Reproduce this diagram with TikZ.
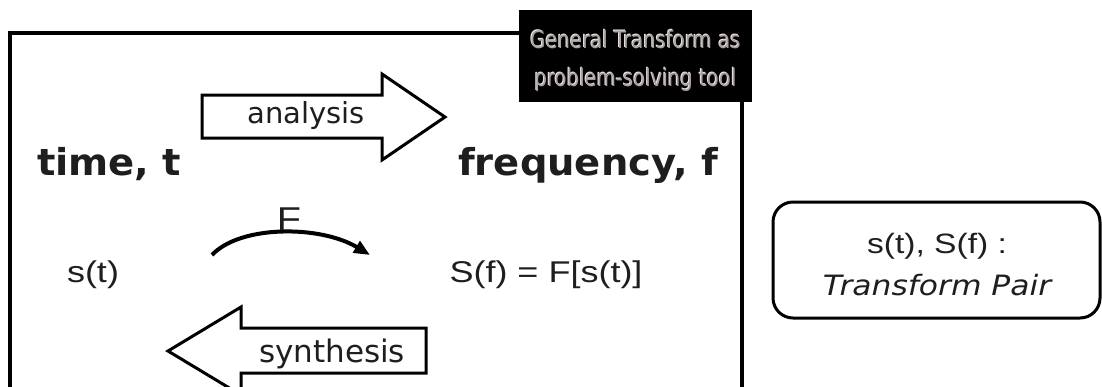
\documentclass[tikz,border=0pt]{standalone}
\usepackage{fontspec}
\setmainfont{DejaVu Sans}
\newfontfamily\comic{DejaVu Sans}
\newfontfamily\comicb[FakeStretch=1.04]{DejaVu Sans}
\newfontfamily\comicn[FakeStretch=0.82]{DejaVu Sans}
\newfontfamily\comicw[FakeStretch=1.12]{DejaVu Sans}
\newfontfamily\arialw[FakeStretch=1.2]{Liberation Sans}
\usetikzlibrary{arrows.meta}
\definecolor{ink}{RGB}{30,30,30}
\definecolor{titlegray}{RGB}{170,160,160}
\definecolor{titlelight}{RGB}{235,230,230}
\tikzset{
  frame/.style={line width=3.5pt, draw=black},
  blockarrow/.style={line width=3pt, draw=black, fill=white, line join=miter},
  arrowlabel/.style={inner sep=0pt, anchor=base, text=ink, font=\comic\fontsize{29}{34}\selectfont},
  axislabel/.style={inner sep=0pt, anchor=base west, text=ink, font=\comicb\bfseries\fontsize{37}{44}\selectfont},
  signal/.style={inner sep=0pt, anchor=base, text=ink, font=\arialw\fontsize{30}{36}\selectfont},
  titletext/.style={inner sep=0pt, anchor=base, text=titlegray, font=\comicn\fontsize{24}{28}\selectfont},
  titleglow/.style={titletext, text=titlelight},
  pairbox/.style={draw=black, line width=3pt, rounded corners=20pt, minimum width=327pt, minimum height=116pt, inner sep=0pt},
}
\begin{document}
\begin{tikzpicture}[x=1pt, y=-1pt]
\useasboundingbox (0,0) rectangle (1102,386);
\clip (0,0) rectangle (1102,386);
% main frame (open at the bottom)
\draw[frame] (10,400) -- (10,33) -- (742,33) -- (742,400);
% title box
\node[fill=black, minimum width=233pt, minimum height=92pt, inner sep=0pt, anchor=north west] (title) at (519,10) {};
\node[titleglow] (t1g) at (634.5,47) {General Transform as};
\node[titleglow] (t2g) at (634.5,85) {problem-solving tool};
\node[titletext] (t1) at (635.5,48) {General Transform as};
\node[titletext] (t2) at (635.5,86) {problem-solving tool};
% analysis block arrow
\draw[blockarrow] (202,95) -- (382,95) -- (382,74) -- (445,117) -- (382,160) -- (382,138) -- (202,138) -- cycle;
\node[arrowlabel] (ana) at (306,123) {analysis};
% synthesis block arrow
\draw[blockarrow] (426,328) -- (241,328) -- (241,307) -- (168,351) -- (241,395) -- (241,373) -- (426,373) -- cycle;
\node[arrowlabel, font=\comic\fontsize{31}{36}\selectfont] (syn) at (332,362) {synthesis};
% domain labels
\node[axislabel] (time) at (37,175) {time, t};
\node[axislabel] (freq) at (458,175) {frequency, f};
% signals
\node[signal] (st) at (93,282) {s(t)};
\node[signal] (Sf) at (546,282) {S(f) = F[s(t)]};
\coordinate (cs) at (212,255);
\coordinate (ce) at (370,255);
\draw[line width=4pt, -{Triangle[length=16pt,width=13pt]}] (cs) .. controls (240,225) and (320,225) .. (ce);
\node[signal, font=\arialw\fontsize{33}{38}\selectfont] (F) at (289,230) {F};
% transform pair box
\node[pairbox] (pair) at (936.5,260) {};
\node[signal, font=\arialw\fontsize{28}{34}\selectfont] (p1) at (937,253) {s(t), S(f) :};
\node[inner sep=0pt, anchor=base, text=ink, font=\comicw\itshape\fontsize{28}{34}\selectfont] (p2) at (937,295) {Transform Pair};
\end{tikzpicture}
\end{document}
